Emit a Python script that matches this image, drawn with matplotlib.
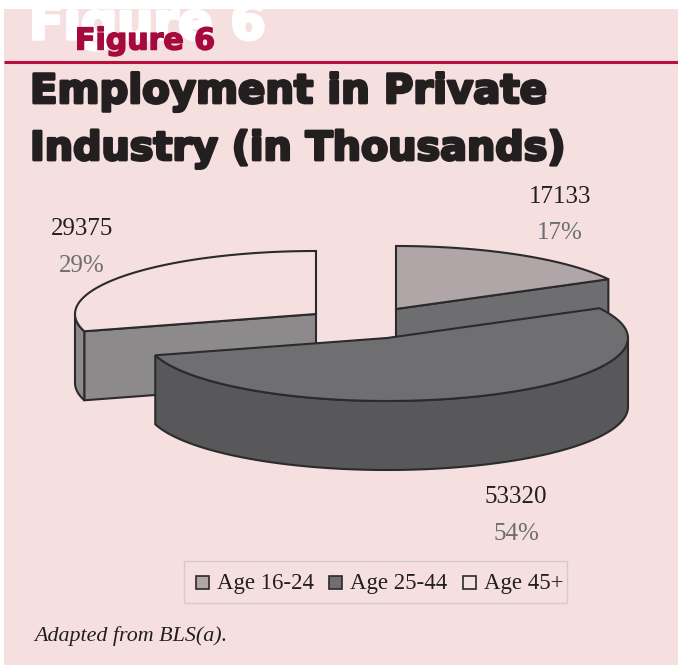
import numpy as np
import matplotlib
matplotlib.use("Agg")
import matplotlib.pyplot as plt
import matplotlib.patheffects as pe
from matplotlib.patches import Rectangle, Polygon

categories = ["Age 16-24", "Age 25-44", "Age 45+"]
values = [17133, 53320, 29375]
pct_labels = ["17%", "54%", "29%"]

top_colors = ["#b0a6a8", "#6f6f71", "#f5e0df"]
side_colors = ["#6e6e70", "#58585a", "#8c8a8b"]
legend_colors = ["#b0a6a8", "#6f6f71", "#f5e0df"]

# wedge apex of each slice on the page, pixels
centers = [(396, 309), (387, 338), (316, 314)]
RX, RY, DEPTH = 241, 63, 69

BG = "#f5e0df"
EDGE = "#2b2a2c"
SERIF = "Liberation Serif"

fig = plt.figure(figsize=(6.78, 6.65), dpi=100)
ax = fig.add_axes([0, 0, 1, 1])
ax.set_xlim(0, 678)
ax.set_ylim(665, 0)
ax.axis("off")

ax.add_patch(Rectangle((4, 9), 674, 656, fc=BG, ec="none", zorder=0))


def rim(cx, cy, a0, a1):
    t = np.radians(np.linspace(a0, a1, 80))
    return np.column_stack([cx + RX * np.sin(t), cy - RY * np.cos(t)])


def extrude(pts):
    return np.vstack([pts, (pts + [0, DEPTH])[::-1]])


total = sum(values)
angles = np.concatenate([[0], np.cumsum(values) / total * 360])
lw = 1.5

# slice 1, back right
c = centers[0]
a0, a1 = angles[0], angles[1]
end = rim(*c, a1, a1)[0]
ax.add_patch(Polygon(extrude(np.array([c, end])), fc=side_colors[0], ec=EDGE, lw=lw, zorder=2))
ax.add_patch(Polygon(np.vstack([[c], rim(*c, a0, a1)]), fc=top_colors[0], ec=EDGE, lw=lw, zorder=3))

# slice 3, left
c = centers[2]
a0, a1 = angles[2], angles[3]
corner = rim(*c, a0, a0)[0]
ax.add_patch(Polygon(extrude(np.array([c, corner])), fc=side_colors[2], ec=EDGE, lw=lw, zorder=4))
ax.add_patch(Polygon(extrude(rim(*c, a0, 270)), fc=side_colors[2], ec=EDGE, lw=lw, zorder=4))
ax.add_patch(Polygon(np.vstack([[c], rim(*c, a0, a1)]), fc=top_colors[2], ec=EDGE, lw=lw, zorder=5))

# slice 2, front
c = centers[1]
a0, a1 = angles[1], angles[2]
ax.add_patch(Polygon(extrude(rim(*c, 90, a1)), fc=side_colors[1], ec=EDGE, lw=lw, zorder=6))
ax.add_patch(Polygon(np.vstack([[c], rim(*c, a0, a1)]), fc=top_colors[1], ec=EDGE, lw=lw, zorder=7))

# data labels
label_pos = [(560, 197, 233), (516, 497, 534), (82, 229, 266)]
for v, p, (x, y1, y2) in zip(values, pct_labels, label_pos):
    ax.text(x, y1, str(v), family=SERIF, fontsize=18, color="#231f20", ha="center", va="center")
    ax.text(x, y2, p, family=SERIF, fontsize=18, color="#6d6e71", ha="center", va="center")

# legend
ax.add_patch(Rectangle((184, 561), 383, 42, fc="none", ec="#d9c9c9", lw=1, zorder=1))
for name, col, sx, tx in zip(categories, legend_colors, [196, 329, 463], [217, 350, 484]):
    ax.add_patch(Rectangle((sx, 576), 13, 13, fc=col, ec=EDGE, lw=1.2))
    ax.text(tx, 583, name, family=SERIF, fontsize=16.5, color="#231f20", ha="left", va="center")

ax.text(34, 636, "Adapted from BLS(a).", family=SERIF, style="italic", fontsize=15.8,
        color="#231f20", ha="left", va="center")

# header
dark = [pe.withStroke(linewidth=2, foreground="#231f20")]
red = [pe.withStroke(linewidth=1.1, foreground="#a6093d")]
white = [pe.withStroke(linewidth=2.5, foreground="white")]
ax.text(29, 25, "Figure 6", family="DejaVu Sans", weight="bold", fontsize=36.5, color="white",
        ha="left", va="center", zorder=1, path_effects=white)
ax.text(75, 41, "Figure 6", family="DejaVu Sans", weight="bold", fontsize=21.6, color="#a6093d",
        ha="left", va="center", zorder=2, path_effects=red)
ax.plot([4, 678], [62, 62], color="#b5103f", lw=2.2, zorder=2, solid_capstyle="butt")
ax.text(30, 92, "Employment in Private", family="DejaVu Sans", weight="bold", fontsize=29,
        color="#231f20", ha="left", va="center", path_effects=dark)
ax.text(30, 149, "Industry (in Thousands)", family="DejaVu Sans", weight="bold", fontsize=28.6,
        color="#231f20", ha="left", va="center", path_effects=dark)

fig.savefig("out.png", dpi=100)
